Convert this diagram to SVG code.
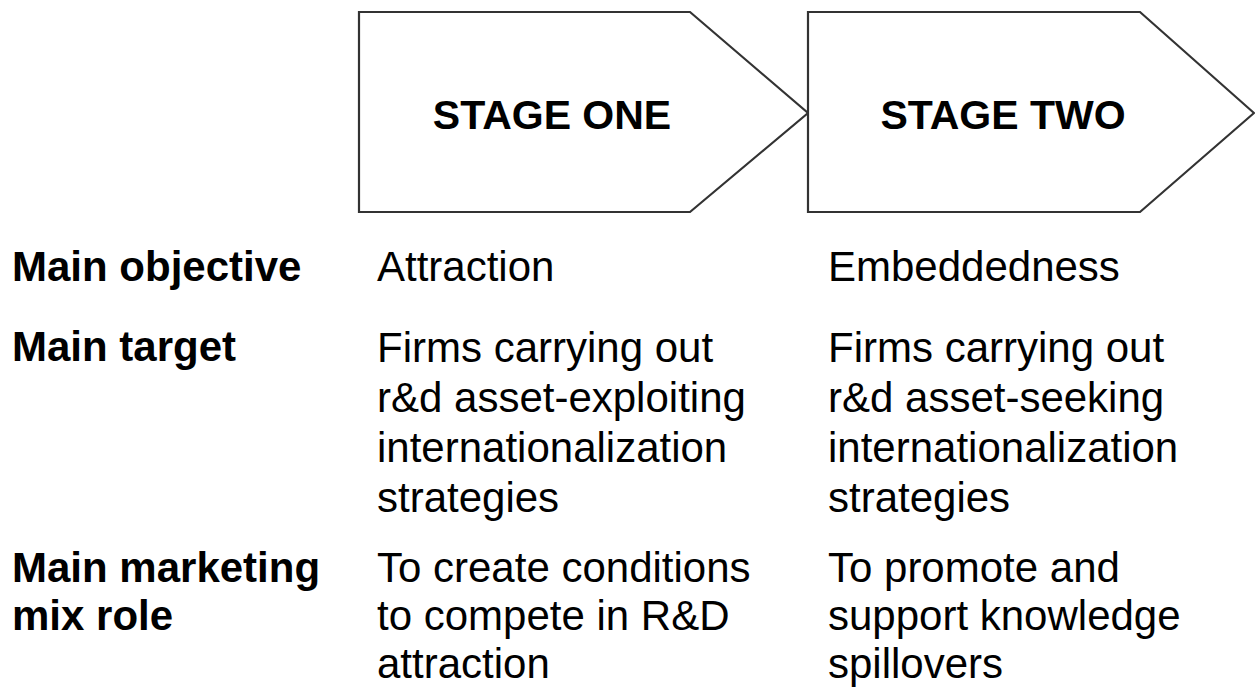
<svg xmlns="http://www.w3.org/2000/svg" width="1255" height="688" viewBox="0 0 1255 688">
<style>
.stage{fill:#fff;stroke:#333;stroke-width:2.2;stroke-linejoin:miter}
.t{font-family:"Liberation Sans",Arial,sans-serif;font-size:42px;fill:#000}
.b{font-weight:bold}
.st{font-family:"Liberation Sans",Arial,sans-serif;font-size:41px;font-weight:bold;fill:#000;text-anchor:middle}
</style>
<rect width="1255" height="688" fill="#fff"/>
<g id="stage-one">
<polygon class="stage" points="359,12 690,12 808,113 690,212 359,212"/>
<text class="st" x="552" y="129">STAGE ONE</text>
</g>
<g id="stage-two">
<polygon class="stage" points="808,12 1140,12 1254,113 1140,212 808,212"/>
<text class="st" x="1003" y="129">STAGE TWO</text>
</g>
<g id="connectors"></g>
<g id="row-labels">
<text class="t b" x="12" y="281">Main objective</text>
<text class="t b" x="12" y="361">Main target</text>
<text class="t b" x="12" y="582">Main marketing</text>
<text class="t b" x="12" y="630">mix role</text>
</g>
<g id="col-one">
<text class="t" x="377" y="281">Attraction</text>
<text class="t" x="377" y="362">Firms carrying out</text>
<text class="t" x="377" y="412">r&amp;d asset-exploiting</text>
<text class="t" x="377" y="462">internationalization</text>
<text class="t" x="377" y="512">strategies</text>
<text class="t" x="377" y="582">To create conditions</text>
<text class="t" x="377" y="630">to compete in R&amp;D</text>
<text class="t" x="377" y="678">attraction</text>
</g>
<g id="col-two">
<text class="t" x="828" y="281">Embeddedness</text>
<text class="t" x="828" y="362">Firms carrying out</text>
<text class="t" x="828" y="412">r&amp;d asset-seeking</text>
<text class="t" x="828" y="462">internationalization</text>
<text class="t" x="828" y="512">strategies</text>
<text class="t" x="828" y="582">To promote and</text>
<text class="t" x="828" y="630">support knowledge</text>
<text class="t" x="828" y="678">spillovers</text>
</g>
</svg>
